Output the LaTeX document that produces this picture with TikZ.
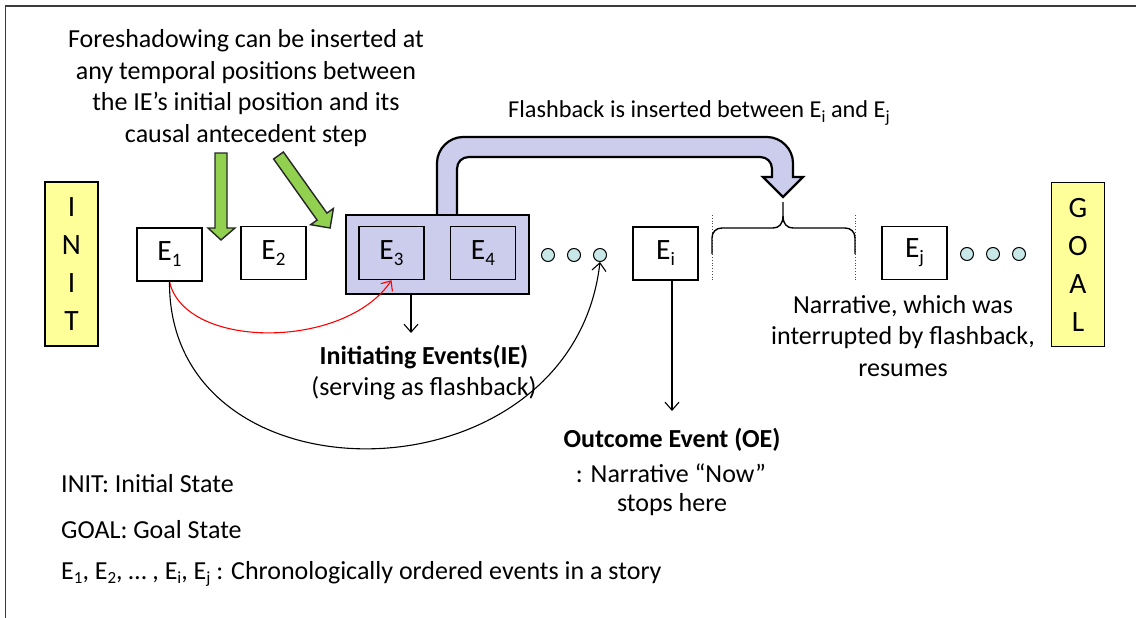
\documentclass[tikz,border=0pt]{standalone}
\usepackage{fontspec}
\setmainfont{Carlito}
\usetikzlibrary{arrows.meta}
\definecolor{yel}{RGB}{255,255,153}
\definecolor{purp}{RGB}{204,204,236}
\definecolor{grn}{RGB}{146,208,80}
\definecolor{dotc}{RGB}{200,232,232}
\definecolor{frame}{RGB}{60,60,60}
\newcommand\fbig{\fontsize{29.5}{38}\selectfont}
\newcommand\fnorm{\fontsize{26}{31.5}\selectfont}
\newcommand\fsmall{\fontsize{24.3}{30}\selectfont}
\newcommand\bsub[1]{\raisebox{-6pt}{\fontsize{19}{19}\selectfont #1}}
\newcommand\tsub[1]{\raisebox{-4.5pt}{\fontsize{17}{17}\selectfont #1}}
\tikzset{
  ebox/.style={draw, line width=1.4pt, fill=white, minimum width=65pt, minimum height=53pt, inner sep=0pt, font=\fbig},
  sbox/.style={draw, line width=1.4pt, fill=yel, minimum width=53pt, minimum height=164pt, inner sep=0pt, font=\fbig, align=center},
  grpbox/.style={draw, line width=2.4pt, fill=purp, inner sep=0pt},
  dotn/.style={circle, draw, line width=1pt, fill=dotc, minimum size=13pt, inner sep=0pt},
  greenarrow/.style={draw=black!85, line width=1.4pt, fill=grn},
  purparrow/.style={draw, line width=2.2pt, fill=purp},
  conn/.style={line width=1.1pt, -{Straight Barb[length=8pt,width=14pt]}},
  txt/.style={inner sep=0pt, font=\fnorm, align=center}
}
\begin{document}
\begin{tikzpicture}[x=1pt,y=-1pt]
\useasboundingbox (0,0) rectangle (1136,618);
% frame
\draw[frame, line width=1.6pt] (5.5,618) -- (5.5,6) -- (1136,6);

% top text
\node[txt] (fs) at (246,88) {Foreshadowing can be inserted at\\any temporal positions between\\the IE’s initial position and its\\causal antecedent step};

% green arrows
\draw[greenarrow] (215,153) -- (227,153) -- (227,228) -- (235,228) -- (221,240) -- (208,228) -- (215,228) -- cycle;
\draw[greenarrow] (283.4,152.0) -- (326.9,213.1) -- (333.4,208.5) -- (330.1,228.0) -- (310.6,224.7) -- (317.1,220.1) -- (273.6,159.0) -- cycle;

% purple flashback arrow
\draw[purparrow] (437,216) -- (437,163) .. controls (437,149) and (449,137) .. (463,137) -- (767,137) .. controls (781,137) and (793,149) .. (793,163) -- (793,177) -- (803,177) -- (783,197) -- (763,177) -- (772,177) -- (772,169) .. controls (772,162) and (767,157) .. (760,157) -- (469,157) .. controls (462,157) and (457,162) .. (457,169) -- (457,216) -- cycle;
\node[txt, font=\fsmall, anchor=west] (fbtext) at (508,113) {Flashback is inserted between E\tsub{i} and E\tsub{j}};

% INIT / GOAL
\node[sbox] (init) at (71.5,264) {I\\N\\I\\T};
\node[sbox] (goal) at (1078,264.5) {G\\O\\A\\L};

% group box
\node[grpbox, minimum width=183pt, minimum height=79pt] (grp) at (437.5,254.5) {};

% event boxes
\node[ebox] (e1) at (169.5,254.5) {E\bsub{1}};
\node[ebox] (e2) at (273.5,253) {E\bsub{2}};
\node[ebox, fill=purp] (e3) at (391.5,253) {E\bsub{3}};
\node[ebox, fill=purp] (e4) at (483,253) {E\bsub{4}};
\node[ebox] (ei) at (665.5,253.5) {E\bsub{i}};
\node[ebox] (ej) at (914.5,253) {E\bsub{j}};

% dots
\node[dotn] (d1) at (548,255) {};
\node[dotn] (d2) at (574,255) {};
\node[dotn] (d3) at (600,255) {};
\node[dotn] (d4) at (967,254) {};
\node[dotn] (d5) at (993,254) {};
\node[dotn] (d6) at (1019,254) {};

% brace and dotted lines
\coordinate (bl) at (712,215);
\coordinate (br) at (855,215);
\draw[dotted, line width=0.8pt, black!70] (bl) -- (712,280);
\draw[dotted, line width=0.8pt, black!70] (br) -- (855,280);
\draw[line width=1.4pt] (712,254) -- (712,238) .. controls (712,232) and (716,228) .. (722,228) -- (773,228) .. controls (779,228) and (783,224) .. (783,216) -- (783,202);
\draw[line width=1.4pt] (783,216) .. controls (783,224) and (787,228) .. (793,228) -- (845,228) .. controls (851,228) and (855,232) .. (855,238) -- (855,254);

% connectors
\draw[conn, red] (e1.south) .. controls (185,350) and (345,350) .. (e3.south);
\draw[conn] (e1.south) .. controls (168,510) and (572,505) .. (d3.south);
\coordinate (ieend) at (411,333);
\draw[conn] ([xshift=-26.5pt]grp.south) -- (ieend);
\coordinate (oeend) at (672,411);
\draw[conn] ([xshift=6.5pt]ei.south) -- (oeend);

% labels
\node[txt] (ie1) at (424,357) {\textbf{Initiating Events(IE)}};
\node[txt] (ie2) at (424,388) {(serving as flashback)};
\node[txt] (oe1) at (672,440) {\textbf{Outcome Event (OE)}};
\node[txt] (oe2) at (671,473) {: Narrative “Now”};
\node[txt] (oe3) at (672,505) {stops here};
\node[txt] (nar) at (903,336) {Narrative, which was\\interrupted by flashback,\\resumes};

% legend
\node[txt, anchor=west] (l1) at (61,484) {INIT: Initial State};
\node[txt, anchor=west] (l2) at (61,530) {GOAL: Goal State};
\node[txt, anchor=west] (l3) at (61,574) {E\tsub{1}, E\tsub{2}, … , E\tsub{i}, E\tsub{j} : Chronologically ordered events in a story};
\end{tikzpicture}
\end{document}
